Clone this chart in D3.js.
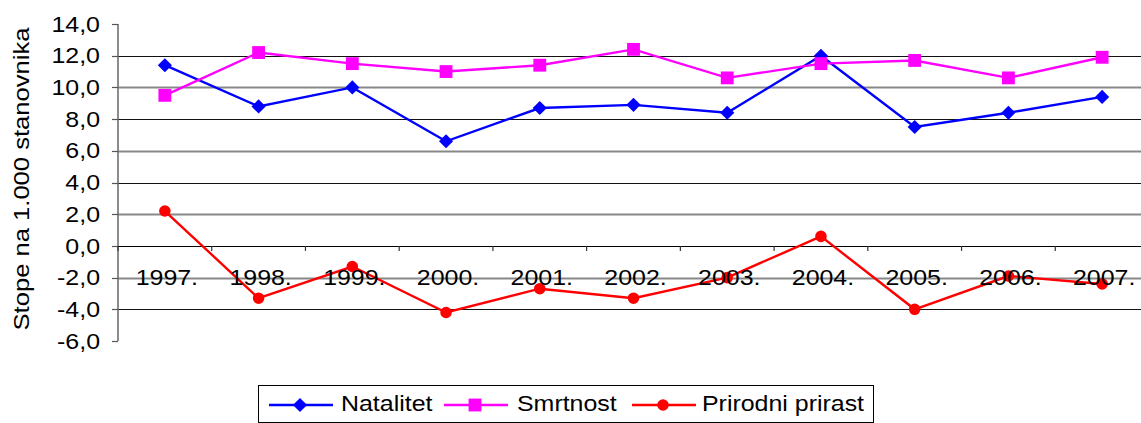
<!DOCTYPE html>
<html lang="hr">
<head>
	<meta charset="UTF-8">
	<title>Stope na 1.000 stanovnika</title>
	<script src="https://cdn.jsdelivr.net/npm/d3@7"></script>
	<style>
		html,body{margin:0;padding:0;background:#fff;}
		svg{display:block;}
		text{font-family:"Liberation Sans",Arial,sans-serif;font-size:21.5px;fill:#000;}
	</style>
</head>
<body>
	<svg id="svg" width="1141" height="423"></svg>
	<script>
		var years = ["1997.","1998.","1999.","2000.","2001.","2002.","2003.","2004.","2005.","2006.","2007."];
		var natalitet = [11.4, 8.8, 10.0, 6.6, 8.7, 8.9, 8.4, 12.0, 7.5, 8.4, 9.4];
		var smrtnost = [9.5, 12.2, 11.5, 11.0, 11.4, 12.4, 10.6, 11.5, 11.7, 10.6, 11.9];
		var prirast = [2.2, -3.3, -1.3, -4.2, -2.7, -3.3, -2.0, 0.6, -4.0, -1.9, -2.4];
		var yTicks = [14, 12, 10, 8, 6, 4, 2, 0, -2, -4, -6];
		var seriesNames = ["Natalitet", "Smrtnost", "Prirodni prirast"];

		var series = [
			{name: seriesNames[0], values: natalitet, color: "#0000ff", shape: "diamond"},
			{name: seriesNames[1], values: smrtnost, color: "#ff00ff", shape: "square"},
			{name: seriesNames[2], values: prirast, color: "#ff0000", shape: "circle"}
		];

		var svg = d3.select("svg");
		var sx = 1.16; // text in the original is drawn a bit wide
		var fmt = function(v){ return d3.format(".1f")(v).replace(".", ",").replace("−", "-"); };

		var x = d3.scaleBand().domain(years).range([118, 1149]).paddingInner(0).paddingOuter(0);
		var y = d3.scaleLinear().domain([-6, 14]).range([341, 24]);

		function marker(shape, sel){
			if(shape == "diamond"){
				sel.append("path").attr("d", d3.symbol(d3.symbolSquare, 100)()).attr("transform", "rotate(45)");
			}else if(shape == "square"){
				sel.append("path").attr("d", d3.symbol(d3.symbolSquare, 165)());
			}else{
				sel.append("path").attr("d", d3.symbol(d3.symbolCircle, 105)());
			}
		}

		// gridlines
		svg.append("g").selectAll("line")
			.data(yTicks.filter(function(d){ return d != 14 && d != -6; }))
			.enter().append("line")
			.attr("x1", 118).attr("x2", 1141)
			.attr("y1", function(d){ return Math.round(y(d)) + 0.5; })
			.attr("y2", function(d){ return Math.round(y(d)) + 0.5; })
			.attr("stroke", function(d){ return d % 4 == 0 ? "#111" : "#888"; })
			.attr("stroke-width", function(d){ return d % 4 == 0 ? 1.2 : 1.8; });

		// y axis
		var yAxis = svg.append("g");
		yAxis.append("line").attr("x1", 118).attr("x2", 118).attr("y1", y(14)).attr("y2", y(-6))
			.attr("stroke", "#707070").attr("stroke-width", 1.6);
		yAxis.selectAll("line.tick").data(yTicks).enter().append("line")
			.attr("class", "tick")
			.attr("x1", 112).attr("x2", 118)
			.attr("y1", function(d){ return Math.round(y(d)) + 0.5; })
			.attr("y2", function(d){ return Math.round(y(d)) + 0.5; })
			.attr("stroke", "#555").attr("stroke-width", 1.2);
		yAxis.selectAll("text").data(yTicks).enter().append("text")
			.attr("text-anchor", "end")
			.attr("transform", function(d){ return "translate(100," + (y(d) + 7.6) + ") scale(" + sx + ",1)"; })
			.text(fmt);

		svg.append("text")
			.attr("text-anchor", "middle")
			.attr("transform", "translate(28.5,179) rotate(-90) scale(" + 1.19 + ",1)")
			.text("Stope na 1.000 stanovnika");

		// x axis at zero
		var xAxis = svg.append("g");
		xAxis.append("line").attr("x1", 118).attr("x2", 1141)
			.attr("y1", Math.round(y(0)) + 0.5).attr("y2", Math.round(y(0)) + 0.5)
			.attr("stroke", "#000").attr("stroke-width", 1.2);
		xAxis.selectAll("line.tick").data(years.concat(["end"])).enter().append("line")
			.attr("class", "tick")
			.attr("x1", function(d, i){ return x.range()[0] + i * x.step(); })
			.attr("x2", function(d, i){ return x.range()[0] + i * x.step(); })
			.attr("y1", y(0)).attr("y2", y(0) + 5)
			.attr("stroke", "#333").attr("stroke-width", 1.2);

		// series lines and markers
		var line = d3.line()
			.x(function(d, i){ return x(years[i]) + x.bandwidth() / 2; })
			.y(function(d){ return y(d); });

		series.forEach(function(s){
			svg.append("path")
				.attr("d", line(s.values))
				.attr("fill", "none")
				.attr("stroke", s.color)
				.attr("stroke-width", 2.4);
			svg.append("g").attr("fill", s.color).selectAll("g")
				.data(s.values).enter().append("g")
				.attr("transform", function(d, i){ return "translate(" + (x(years[i]) + x.bandwidth() / 2) + "," + y(d) + ")"; })
				.each(function(){ marker(s.shape, d3.select(this)); });
		});

		// category labels drawn over the lines
		svg.append("g").selectAll("text").data(years).enter().append("text")
			.attr("text-anchor", "middle")
			.attr("transform", function(d){ return "translate(" + (x(d) + x.bandwidth() / 2 + 2) + ",285) scale(" + sx + ",1)"; })
			.text(function(d){ return d; });

		// legend
		var legend = svg.append("g");
		legend.append("rect").attr("x", 258.5).attr("y", 385.5).attr("width", 615).attr("height", 37)
			.attr("fill", "#fff").attr("stroke", "#000").attr("stroke-width", 1);
		var legX = [269, 444, 632];
		var legTextX = [341, 517, 702];
		series.forEach(function(s, i){
			var g = legend.append("g");
			g.append("line").attr("x1", legX[i]).attr("x2", legX[i] + 64).attr("y1", 405).attr("y2", 405)
				.attr("stroke", s.color).attr("stroke-width", 2.4);
			var m = g.append("g").attr("fill", s.color).attr("transform", "translate(" + (legX[i] + 31) + ",405)");
			marker(s.shape, m);
			g.append("text")
				.attr("transform", "translate(" + legTextX[i] + ",411) scale(" + sx + ",1)")
				.text(s.name);
		});
	</script>
</body>
</html>
